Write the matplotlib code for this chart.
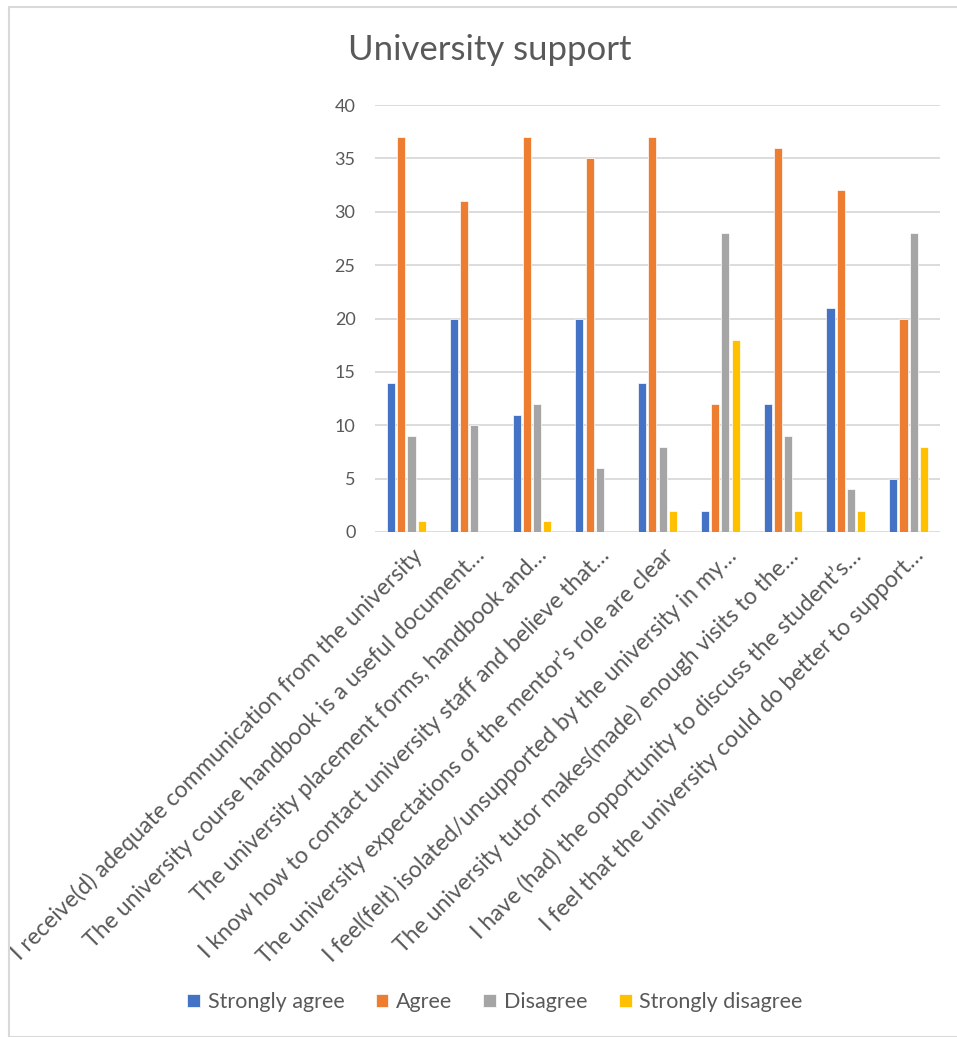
import numpy as np
import matplotlib.pyplot as plt
from matplotlib.patches import Rectangle

plt.rcParams['font.family'] = ['Lato', 'DejaVu Sans']

categories = [
    "I receive(d) adequate communication from the university",
    "The university course handbook is a useful document\u2026",
    "The university placement forms, handbook and\u2026",
    "I know how to contact university staff and believe that\u2026",
    "The university expectations of the mentor\u2019s role are clear",
    "I feel(felt) isolated/unsupported by the university in my\u2026",
    "The university tutor makes(made) enough visits to the\u2026",
    "I have (had) the opportunity to discuss the student\u2019s\u2026",
    "I feel that the university could do better to support\u2026",
]
series_names = ["Strongly agree", "Agree", "Disagree", "Strongly disagree"]
strongly_agree = [14, 20, 11, 20, 14, 2, 12, 21, 5]
agree = [37, 31, 37, 35, 37, 12, 36, 32, 20]
disagree = [9, 10, 12, 6, 8, 28, 9, 4, 28]
strongly_disagree = [1, 0, 1, 0, 2, 18, 2, 2, 8]
colors = ["#4472C4", "#ED7D31", "#A5A5A5", "#FFC000"]
text_grey = "#595959"

W, H = 957, 1037
fig = plt.figure(figsize=(W / 100, H / 100), dpi=100)
ax = fig.add_axes([375 / W, 1 - 532 / H, (940 - 375) / W, (532 - 105) / H])

x = np.arange(len(categories))
width = 0.13
step = 0.163
for i, (vals, name, c) in enumerate(zip([strongly_agree, agree, disagree, strongly_disagree],
                                        series_names, colors)):
    ax.bar(x + (i - 1.5) * step, vals, width, color=c, label=name, zorder=3,
           edgecolor="white", linewidth=0.5)

ax.set_xlim(-0.5, len(categories) - 0.5)
ax.set_ylim(0, 40)
ax.set_yticks(range(0, 41, 5))
ax.yaxis.grid(True, color="#D9D9D9", linewidth=1.3, zorder=0)
for s in ax.spines.values():
    s.set_visible(False)
ax.tick_params(axis="y", length=0, labelsize=13, labelcolor=text_grey, pad=14)
ax.tick_params(axis="x", length=0, pad=9)
ax.set_xticks(x + 0.07)
ax.set_xticklabels(categories, rotation=45, ha="right", rotation_mode="anchor",
                   fontsize=16.6, color=text_grey)

fig.text(0.512, 1 - 50 / H, "University support", ha="center", va="center",
         fontsize=25, color=text_grey)

leg = fig.legend(loc="center", bbox_to_anchor=(0.517, 1 - 1002 / H), ncol=4,
                 frameon=False, fontsize=15.5, handlelength=0.6, handleheight=0.6,
                 columnspacing=1.45, handletextpad=0.35)
for t in leg.get_texts():
    t.set_color(text_grey)

# light frame around the chart area
fig.patches.append(Rectangle((9 / W, 0), 1.0, 1 - 7 / H, transform=fig.transFigure,
                             fill=False, edgecolor="#D9D9D9", linewidth=1.5))

fig.savefig("out.png", dpi=100, facecolor="white")
